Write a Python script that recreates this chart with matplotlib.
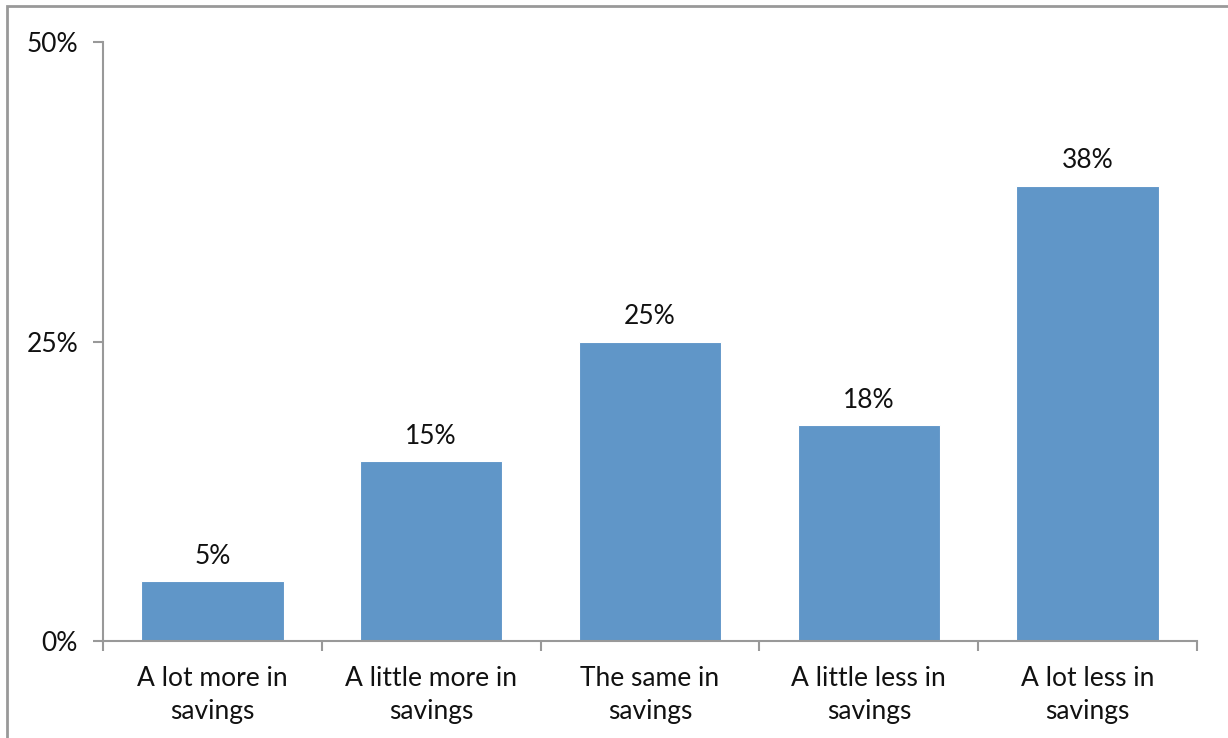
import matplotlib.pyplot as plt
from matplotlib.patches import Rectangle

categories = ["A lot more in\nsavings", "A little more in\nsavings", "The same in\nsavings",
              "A little less in\nsavings", "A lot less in\nsavings"]
values = [5, 15, 25, 18, 38]
yticks = [0, 25, 50]

plt.rcParams['font.family'] = ['Lato', 'DejaVu Sans']

fig = plt.figure(figsize=(12.28, 7.38), dpi=100)
ax = fig.add_axes([103 / 1228, 1 - 641 / 738, (1197 - 103) / 1228, (641 - 42) / 738])

x = list(range(len(values)))
ax.bar(x, values, width=0.65, color='#6096c8', edgecolor='white', linewidth=0.8)
for xi, v in zip(x, values):
    ax.annotate(f"{v}%", (xi, v), xytext=(0, 9), textcoords='offset points',
                ha='center', va='bottom', fontsize=19, color='#111111')

ax.set_xlim(-0.5, len(values) - 0.5)
ax.set_ylim(0, 50)
ax.set_yticks(yticks)
ax.set_yticklabels([f"{t}%" for t in yticks], fontsize=19, color='#111111', va='center_baseline')
ax.set_xticks([i - 0.5 for i in range(len(values) + 1)])
ax.set_xticklabels([])
ax.set_xticks(x, minor=True)
ax.set_xticklabels(categories, minor=True, fontsize=19, color='#111111', linespacing=1.4)
ax.tick_params(axis='x', which='minor', length=0, pad=18)
ax.tick_params(axis='x', which='major', length=7, width=1.5, color='#999999', direction='out')
ax.tick_params(axis='y', length=7, width=1.5, color='#999999', direction='out', pad=11)

for s in ['top', 'right']:
    ax.spines[s].set_visible(False)
for s in ['left', 'bottom']:
    ax.spines[s].set_color('#999999')
    ax.spines[s].set_linewidth(1.5)

# outer chart border (cropped at right and bottom)
fig.patches.append(Rectangle((7 / 1228, -0.1), 1.2, 1 - 6 / 738 + 0.1, transform=fig.transFigure,
                             fill=False, edgecolor='#999999', linewidth=2))

fig.savefig('out.png', dpi=100)
